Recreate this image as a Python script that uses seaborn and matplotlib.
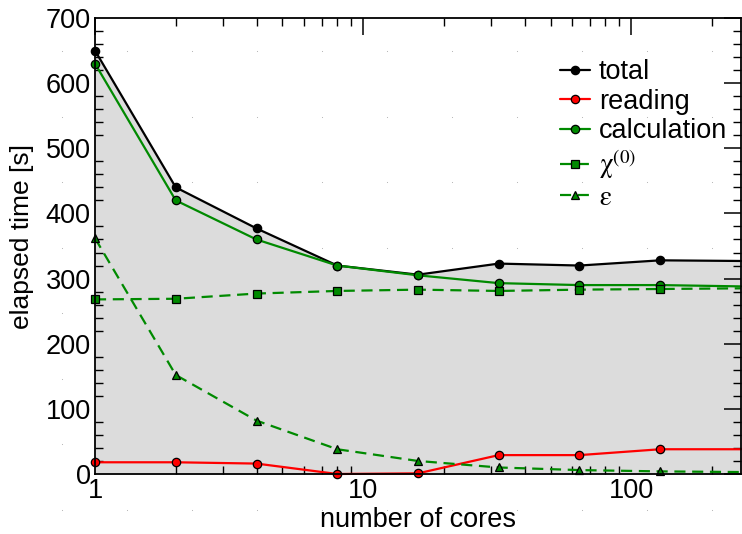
import numpy as np
import matplotlib
matplotlib.use("Agg")
import matplotlib.pyplot as plt
import seaborn as sns

# --- data ---
cores = [1, 2, 4, 8, 16, 32, 64, 128, 256]
total = [650, 440, 377, 320, 306, 323, 320, 328, 327]
reading = [18, 18, 16, 0, 1, 29, 29, 38, 38]
calculation = [630, 420, 360, 320, 305, 293, 290, 290, 288]
chi0 = [268, 269, 277, 281, 283, 281, 283, 284, 285]
eps = [362, 152, 82, 38, 20, 10, 6, 4, 3]

sns.set_theme(style="white")
plt.rcParams['font.family'] = ['Liberation Sans', 'DejaVu Sans']
plt.rcParams['mathtext.fontset'] = 'stix'
plt.rcParams['text.color'] = 'black'
plt.rcParams['axes.labelcolor'] = 'black'
plt.rcParams['xtick.color'] = 'black'
plt.rcParams['ytick.color'] = 'black'

GREEN = '#008a00'

fig = plt.figure(figsize=(7.42, 5.34), dpi=100)

# faint background dot grid (Grace-style)
bg = fig.add_axes([0, 0, 1, 1], zorder=-5)
bg.set_xlim(0, 742); bg.set_ylim(534, 0); bg.axis('off')
gx, gy = np.meshgrid(np.arange(62, 742, 65), np.arange(51, 534, 65.5))
bg.scatter(gx.ravel(), gy.ravel(), s=0.6, color='#b0b0b0', linewidths=0)

ax = fig.add_axes([95 / 742, 60 / 534, 646 / 742, 456 / 534])
ax.patch.set_alpha(0)

ax.fill_between(cores, total, 0, color='#dcdcdc', zorder=0, linewidth=0)

common = dict(ax=ax, markersize=6, markeredgecolor='black', markeredgewidth=0.9,
              markevery=slice(0, 8), clip_on=False, linewidth=1.6)
sns.lineplot(x=cores, y=total, color='black', marker='o', label='total', **common)
sns.lineplot(x=cores, y=reading, color='#ff0000', marker='o', markerfacecolor='#ff0000',
             label='reading', **common)
sns.lineplot(x=cores, y=calculation, color=GREEN, marker='o', label='calculation', **common)
sns.lineplot(x=cores, y=chi0, color=GREEN, marker='s', linestyle=(0, (5, 3)),
             label=r'$\mathrm{χ}^{(0)}$', **common)
sns.lineplot(x=cores, y=eps, color=GREEN, marker='^', linestyle=(0, (5, 3)),
             label=r'$\mathrm{ε}$', **common)

ax.set_xscale('log')
ax.set_xlim(1, 256)
ax.set_ylim(0, 700)
ax.set_yticks(range(0, 701, 100))
ax.set_yticks(range(0, 701, 20), minor=True)
ax.set_xticks([1, 10, 100])
ax.set_xticklabels(['1', '10', '100'])

for s in ax.spines.values():
    s.set_color('black')
    s.set_linewidth(1.3)

ax.tick_params(axis='both', which='major', direction='in', length=12, width=1.1,
               labelsize=19.5, top=True, right=True, pad=3)
ax.tick_params(axis='both', which='minor', direction='in', length=6, width=1.0,
               top=True, right=True)
ax.tick_params(axis='y', which='minor', left=True, right=True)
ax.tick_params(axis='x', which='minor', bottom=True, top=True)

ax.set_xlabel('number of cores', fontsize=19.5, labelpad=2)
ax.set_ylabel('elapsed time [s]', fontsize=19)
ax.yaxis.set_label_coords(-0.094, 0.52)

leg = ax.legend(loc='upper left', bbox_to_anchor=(0.72, 0.91), frameon=False,
                fontsize=19.5, handlelength=1.1, handletextpad=0.33, labelspacing=0.13,
                borderaxespad=0, borderpad=0)

fig.savefig('out.png', dpi=100)
